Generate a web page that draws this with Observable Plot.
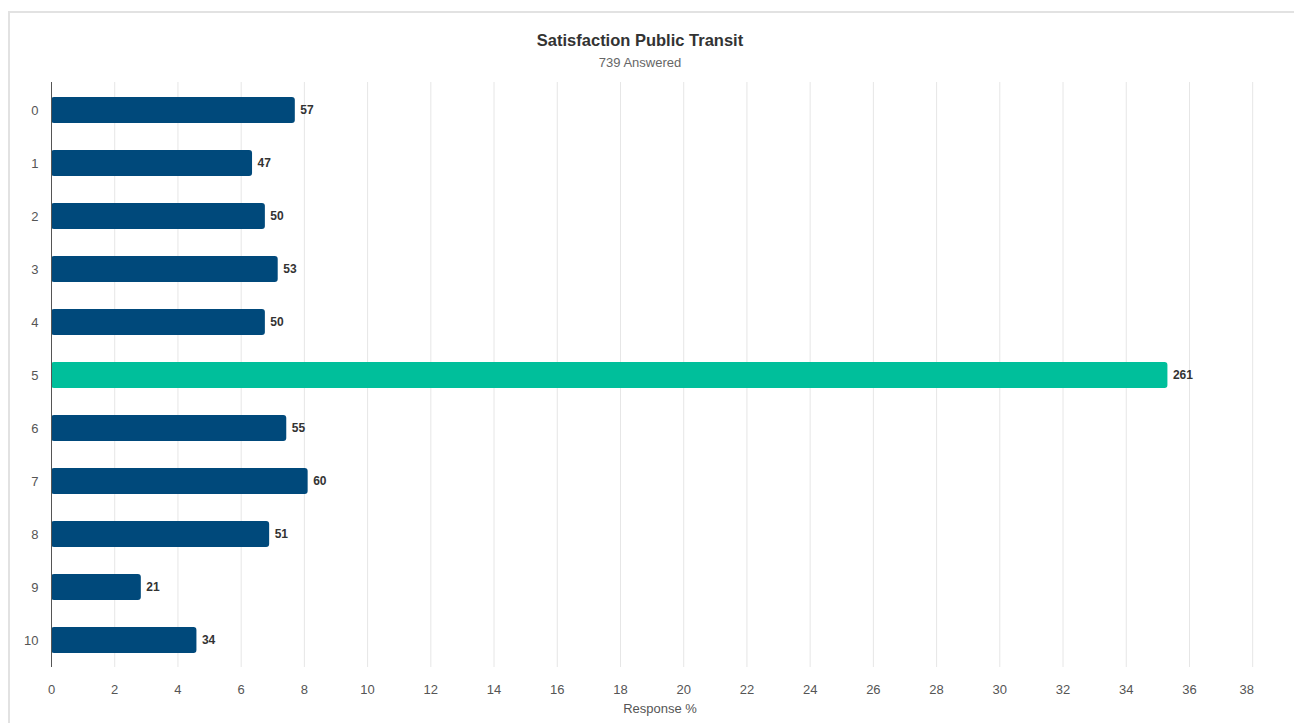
<!DOCTYPE html>
<html>
<head>
<meta charset="utf-8">
<script src="https://cdn.jsdelivr.net/npm/d3@7"></script>
<script src="https://cdn.jsdelivr.net/npm/@observablehq/plot@0.6"></script>
<style>
  html, body { margin: 0; padding: 0; background: #fff; width: 1294px; height: 723px; overflow: hidden; font-family: "Liberation Sans", Arial, Helvetica, sans-serif; }
  #frame { position: absolute; left: 8px; top: 11px; width: 1290px; height: 720px; border: 2px solid #e2e2e2; box-sizing: border-box; }
  #title { position: absolute; left: 0; width: 1280px; top: 31px; text-align: center; font-size: 16.5px; font-weight: bold; color: #333; }
  #subtitle { position: absolute; left: 0; width: 1280px; top: 55px; text-align: center; font-size: 13px; color: #666; }
  #chart { position: absolute; left: 0; top: 75px; }
</style>
</head>
<body>
<div id="frame"></div>
<div id="title">Satisfaction Public Transit</div>
<div id="subtitle">739 Answered</div>
<div id="chart"></div>
<script>
const categories = ["0","1","2","3","4","5","6","7","8","9","10"];
const counts = [57, 47, 50, 53, 50, 261, 55, 60, 51, 21, 34];
const totalAnswered = 739;
const highlighted = "5";
const xTicks = [0,2,4,6,8,10,12,14,16,18,20,22,24,26,28,30,32,34,36,38];

const data = categories.map((c, i) => ({
  category: c,
  count: counts[i],
  pct: counts[i] / totalAnswered * 100
}));

const lastTick = xTicks[xTicks.length - 1];
const axisStyle = { tickSize: 0, tickPadding: 17, fontSize: 13, color: "#555" };

const chart = Plot.plot({
  width: 1294,
  height: 648,
  marginLeft: 51,
  marginRight: 26,
  marginTop: 7,
  marginBottom: 56,
  style: { fontFamily: '"Liberation Sans", Arial, Helvetica, sans-serif', fontSize: "12px", color: "#555", background: "transparent" },
  x: { domain: [0, 38.5] },
  y: { domain: categories, paddingInner: 0.51, paddingOuter: 0.255 },
  marks: [
    Plot.gridX(xTicks, { stroke: "#e6e6e6", strokeOpacity: 1 }),
    Plot.barX(data, {
      x: "pct", y: "category", rx: 3,
      fill: d => d.category === highlighted ? "#00bf9b" : "#00497b"
    }),
    Plot.ruleX([0], { stroke: "#555", strokeWidth: 1 }),
    Plot.text(data, {
      x: "pct", y: "category", text: d => String(d.count),
      dx: 5, textAnchor: "start", fontWeight: "bold", fill: "#333", fontSize: 12
    }),
    Plot.axisY({ tickSize: 0, tickPadding: 13, label: null, fontSize: 13, color: "#555" }),
    Plot.axisX(xTicks.filter(t => t !== lastTick), { ...axisStyle,
      label: "Response %", labelAnchor: "center", labelArrow: "none", labelOffset: 45 }),
    Plot.axisX([lastTick], { ...axisStyle, dx: -6, label: null })
  ]
});
document.getElementById("chart").appendChild(chart);
</script>
</body>
</html>
